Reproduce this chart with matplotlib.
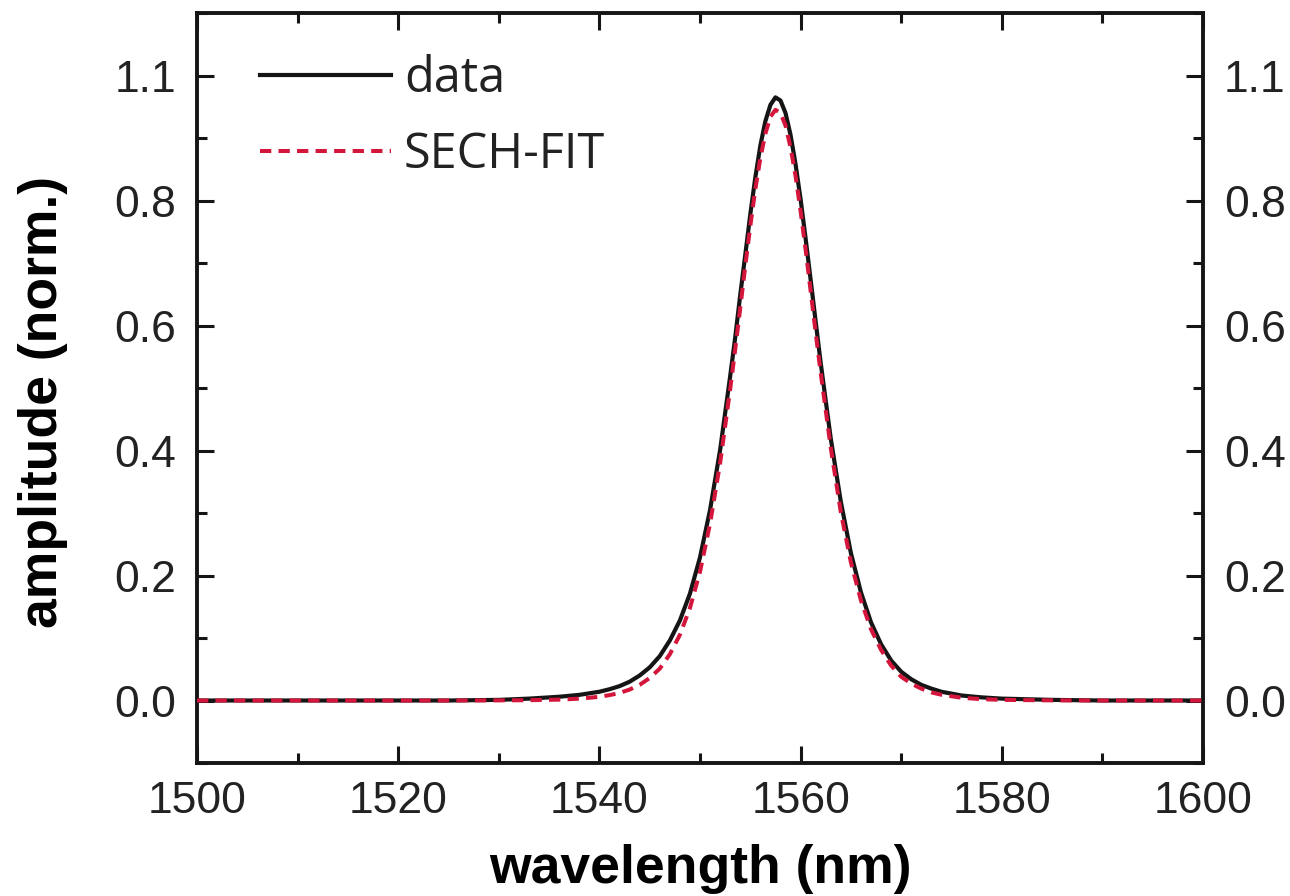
import matplotlib
matplotlib.use('Agg')
import matplotlib.pyplot as plt
from matplotlib.ticker import MultipleLocator, FixedLocator, FixedFormatter

# spectrum sampling (nm)
wavelength = [1500, 1510, 1520, 1525, 1530, 1533, 1536, 1538, 1540, 1541,
              1542, 1543, 1544, 1545, 1546, 1547, 1548, 1549, 1550, 1551,
              1552, 1553, 1553.5, 1554, 1554.5, 1555, 1555.5, 1556, 1556.5,
              1557, 1557.5, 1558, 1558.5, 1559, 1559.5, 1560, 1560.5, 1561,
              1561.5, 1562, 1563, 1564, 1565, 1566, 1567, 1568, 1569, 1570,
              1571, 1572, 1573, 1574, 1576, 1578, 1580, 1585, 1590, 1600]

# measured spectrum (normalised)
amp_data = [0.000, 0.000, 0.000, 0.000, 0.001, 0.003, 0.006, 0.009, 0.014, 0.018,
            0.023, 0.030, 0.040, 0.053, 0.071, 0.096, 0.128, 0.171, 0.229, 0.305,
            0.401, 0.519, 0.581, 0.649, 0.713, 0.778, 0.837, 0.888, 0.927,
            0.953, 0.965, 0.960, 0.940, 0.905, 0.858, 0.802, 0.739, 0.673,
            0.606, 0.540, 0.419, 0.318, 0.236, 0.173, 0.125, 0.090, 0.064, 0.046,
            0.034, 0.025, 0.019, 0.014, 0.008, 0.005, 0.003, 0.001, 0.000, 0.000]

# sech^2 fit
amp_fit = [0.000, 0.000, 0.000, 0.000, 0.0002, 0.0005, 0.0014, 0.0029, 0.0059, 0.0086,
           0.012, 0.0175, 0.025, 0.036, 0.051, 0.074, 0.105, 0.148, 0.206, 0.283,
           0.380, 0.498, 0.562, 0.628, 0.695, 0.759, 0.818, 0.868, 0.907,
           0.934, 0.945, 0.940, 0.920, 0.885, 0.839, 0.783, 0.721, 0.655,
           0.588, 0.524, 0.404, 0.301, 0.221, 0.160, 0.114, 0.081, 0.056, 0.038,
           0.027, 0.019, 0.013, 0.0092, 0.0044, 0.0021, 0.0010, 0.0002, 0.000, 0.000]

ytick_pos = [0.0, 0.2, 0.4, 0.6, 0.8, 1.0]
ytick_labels = ['0.0', '0.2', '0.4', '0.6', '0.8', '1.1']

black = '#151515'
red = '#d4163c'

plt.rcParams['font.family'] = ['Liberation Sans', 'DejaVu Sans']

fig = plt.figure(figsize=(12.9, 8.96), dpi=100)
ax = fig.add_axes([197/1290, 1 - 763/896, 1006/1290, 750/896])

ax.plot(wavelength, amp_data, color=black, lw=3.0, label='data', zorder=2)
ax.plot(wavelength, amp_fit, color=red, lw=2.9, linestyle=(0, (2.8, 1.8)),
        label='SECH-FIT', zorder=3)

ax.set_xlim(1500, 1600)
ax.set_ylim(-0.1, 1.1)

ax.xaxis.set_major_locator(MultipleLocator(20))
ax.xaxis.set_minor_locator(MultipleLocator(10))
ax.yaxis.set_major_locator(FixedLocator(ytick_pos))
ax.yaxis.set_major_formatter(FixedFormatter(ytick_labels))
ax.yaxis.set_minor_locator(MultipleLocator(0.1))

for s in ax.spines.values():
    s.set_linewidth(2.8)
    s.set_color(black)

ax.tick_params(which='both', direction='in', top=True, right=True,
               labelright=True, color=black, labelcolor='#222222')
ax.tick_params(which='major', length=12, width=2.2, labelsize=32, pad=13)
ax.tick_params(axis='y', which='major', pad=15)
ax.tick_params(which='minor', length=7, width=2.2)

ax.set_xlabel('wavelength (nm)', fontsize=38.5, fontweight='bold', labelpad=16)
ax.set_ylabel('amplitude (norm.)', fontsize=38.5, fontweight='bold')
ax.yaxis.set_label_coords(-0.128, 0.481)

leg = ax.legend(loc='upper left', bbox_to_anchor=(0.0626, 0.945), frameon=False,
                borderpad=0, borderaxespad=0, handlelength=2.7, handletextpad=0.26,
                labelspacing=0.56, prop={'family': 'Open Sans', 'size': 35})
for t in leg.get_texts():
    t.set_color('#222222')

fig.savefig('out.png', dpi=100)
